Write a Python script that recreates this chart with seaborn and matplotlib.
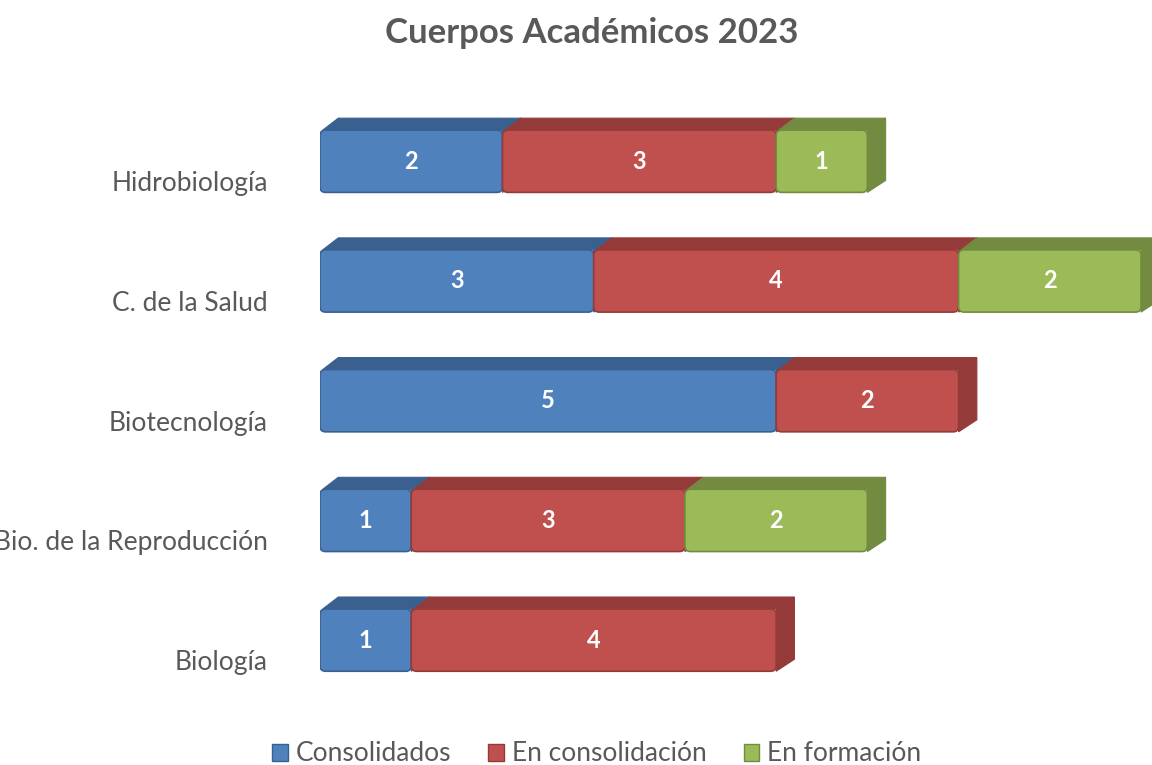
import numpy as np
import pandas as pd
import seaborn as sns
import matplotlib.pyplot as plt
import matplotlib.transforms as mtransforms
from matplotlib.colors import to_rgb
from matplotlib.patches import Polygon, Patch, FancyBboxPatch

# data
categorias = ['Hidrobiología', 'C. de la Salud', 'Biotecnología',
              'Bio. de la Reproducción', 'Biología']
consolidados = [2, 3, 5, 1, 1]
en_consolidacion = [3, 4, 2, 3, 4]
en_formacion = [1, 2, 0, 2, 0]
series = ['Consolidados', 'En consolidación', 'En formación']
colores = ['#4F81BD', '#C0504D', '#9BBB59']
oscuros = ['#3A6090', '#943B39', '#728B40']

sns.set_theme(style='white')
plt.rcParams['font.family'] = ['Lato', 'DejaVu Sans']

fig = plt.figure(figsize=(11.52, 7.65), dpi=100)
ax = fig.add_axes([0.2778, 0.085, 0.7222, 0.797])

valores = [consolidados, en_consolidacion, en_formacion]
izquierda = np.zeros(len(categorias))
for i, (nombre, vals) in enumerate(zip(series, valores)):
    df = pd.DataFrame({'cat': categorias, 'val': vals})
    sns.barplot(data=df, y='cat', x='val', orient='y', order=categorias,
                color=colores[i], saturation=1, width=0.52, errorbar=None,
                left=izquierda.copy(), edgecolor=oscuros[i], linewidth=1,
                zorder=3 + 3 * i, ax=ax)
    izquierda += np.array(vals)

# fake 3D: top and side faces from the drawn bars, rounded front face
dx, dy = 0.2, 0.1
barras = [p for p in ax.patches]
for p in barras:
    w = p.get_width()
    p.set_visible(False)
    if w <= 0:
        continue
    x0, y0, h = p.get_x(), p.get_y(), p.get_height()
    x1 = x0 + w
    fc = p.get_facecolor()
    idx = [k for k in range(3) if np.allclose(fc[:3], to_rgb(colores[k]))][0]
    z = p.get_zorder()
    top = Polygon([(x0 + 0.03, y0), (x1, y0), (x1 + dx, y0 - dy), (x0 + dx, y0 - dy)],
                  closed=True, facecolor=oscuros[idx], edgecolor=oscuros[idx],
                  linewidth=0.8, zorder=z - 1)
    side = Polygon([(x1, y0), (x1, y0 + h), (x1 + dx, y0 + h - dy), (x1 + dx, y0 - dy)],
                   closed=True, facecolor=oscuros[idx], edgecolor=oscuros[idx],
                   linewidth=0.8, zorder=z - 1)
    frente = FancyBboxPatch((x0, y0), w, h, boxstyle='round,pad=0,rounding_size=0.06',
                            mutation_aspect=0.76, facecolor=colores[idx],
                            edgecolor=oscuros[idx], linewidth=1.2, zorder=z)
    ax.add_patch(top)
    ax.add_patch(side)
    ax.add_patch(frente)
    ax.text(x0 + w / 2, y0 + h / 2, f'{w:g}', ha='center', va='center',
            color='white', fontsize=17, fontweight='bold', zorder=z + 1)

ax.set_xlim(0, 9.12)
ax.set_ylim(4.50, -0.593)
ax.set_xlabel('')
ax.set_ylabel('')
ax.set_xticks([])
sns.despine(ax=ax, left=True, bottom=True)
ax.tick_params(axis='y', length=0, pad=52, labelsize=19, labelcolor='#595959')
desplazar = mtransforms.ScaledTranslation(20 / 100, -20 / 100, fig.dpi_scale_trans)
for lab in ax.get_yticklabels():
    lab.set_transform(lab.get_transform() + desplazar)

fig.suptitle('Cuerpos Académicos 2023', x=0.514, y=0.978, fontsize=25,
             fontweight='bold', color='#595959')

manijas = [Patch(facecolor=colores[i], edgecolor=oscuros[i]) for i in range(3)]
fig.legend(manijas, series, loc='lower center', bbox_to_anchor=(0.518, -0.033),
           ncol=3, frameon=False, fontsize=19, handlelength=0.6,
           handleheight=0.6, handletextpad=0.3, columnspacing=1.4,
           labelcolor='#595959')

fig.savefig('out.png', dpi=100)
